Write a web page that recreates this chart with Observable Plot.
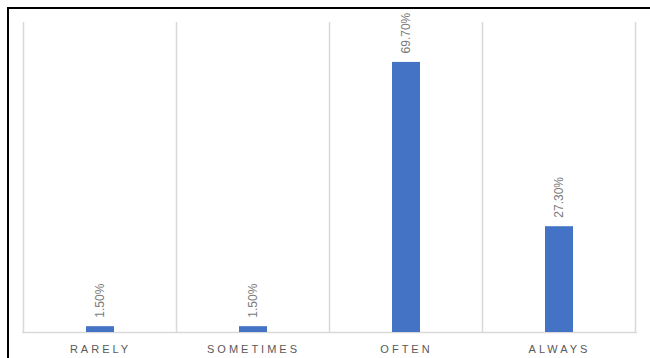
<!DOCTYPE html>
<html>
<head>
<meta charset="utf-8">
<script src="https://cdn.jsdelivr.net/npm/d3@7"></script>
<script src="https://cdn.jsdelivr.net/npm/@observablehq/plot@0.6"></script>
<style>
  html, body { margin: 0; padding: 0; background: #fff; }
  #wrap { position: relative; width: 650px; height: 358px; overflow: hidden; }
  #border { position: absolute; left: 7px; top: 7px; width: 700px; height: 400px;
            border: 2px solid #000; box-sizing: border-box; pointer-events: none; }
  .freq g[aria-label^="x-axis"] text { letter-spacing: 3px; }
</style>
</head>
<body>
<div id="wrap"><div id="border"></div></div>
<script>
// Response frequency shares (percent)
const categories = ["RARELY", "SOMETIMES", "OFTEN", "ALWAYS"];
const shares = [1.5, 1.5, 69.7, 27.3];

const data = categories.map((c, i) => ({category: c, share: shares[i]}));

// Vertical separators at the edges of each category slot
function slotLines(index, scales, values, dims) {
  const x = scales.x;
  const step = x.step ? x.step() : (dims.width - dims.marginLeft - dims.marginRight) / categories.length;
  const bw = x.bandwidth ? x.bandwidth() : 0;
  const edges = x.domain().map(c => x(c) + bw / 2 - step / 2);
  edges.push(edges[edges.length - 1] + step);
  const g = d3.create("svg:g").attr("stroke", "#d9d9d9").attr("stroke-width", 1.5);
  for (const e of edges) {
    g.append("line")
      .attr("x1", e).attr("x2", e)
      .attr("y1", dims.marginTop).attr("y2", dims.height - dims.marginBottom);
  }
  return g.node();
}

const chart = Plot.plot({
  width: 650,
  height: 358,
  marginLeft: 22,
  marginRight: 13,
  marginTop: 22,
  marginBottom: 26,
  className: "freq",
  style: {fontFamily: "'Liberation Sans', Arial, sans-serif", background: "transparent"},
  x: {domain: categories, paddingInner: 0.818, paddingOuter: 0.409, label: null,
      tickSize: 0, tickPadding: 13, fontSize: 11},
  y: {domain: [0, 80], axis: null},
  marks: [
    slotLines,
    Plot.ruleY([0], {stroke: "#d9d9d9", strokeWidth: 1.5}),
    Plot.barY(data, {x: "category", y: "share", fill: "#4472C4"}),
    Plot.text(data, {
      x: "category", y: "share",
      text: d => d.share.toFixed(2) + "%",
      rotate: -90, textAnchor: "start", dy: -9,
      fill: "#7a7a7a", fontSize: 12
    })
  ]
});

chart.querySelectorAll('g[aria-label^="x-axis"] text').forEach(t => {
  t.setAttribute("fill", "#595959");
  t.style.fontSize = "11px";
});

document.getElementById("wrap").prepend(chart);
</script>
</body>
</html>
